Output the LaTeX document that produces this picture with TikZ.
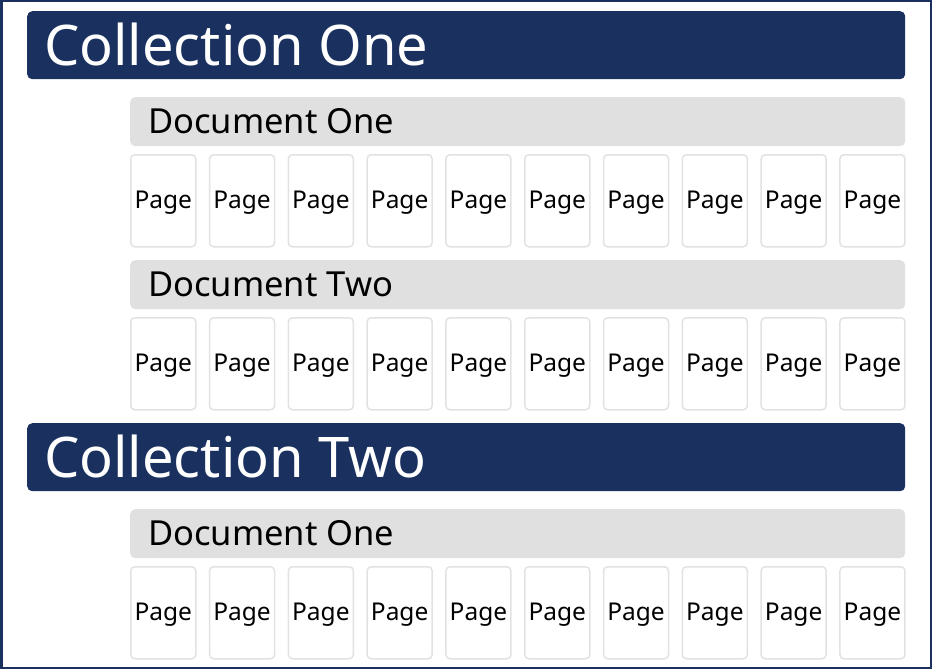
\documentclass[tikz,border=0pt]{standalone}
\usepackage{fontspec}
\setmainfont{Noto Sans}
\usetikzlibrary{calc}
\definecolor{navy}{RGB}{26,49,96}
\definecolor{docgrey}{RGB}{224,224,224}
\definecolor{pagegrey}{RGB}{226,226,226}
\tikzstyle{collbar}=[rectangle,rounded corners=5pt,fill=navy,minimum width=878pt,minimum height=68pt,anchor=north west,inner sep=0pt]
\tikzstyle{docbar}=[rectangle,rounded corners=5pt,fill=docgrey,minimum width=775pt,minimum height=49pt,anchor=north west,inner sep=0pt]
\tikzstyle{page}=[rectangle,rounded corners=4pt,draw=pagegrey,line width=1.5pt,fill=white,minimum width=65pt,minimum height=92pt,anchor=north west,inner sep=0pt]
\tikzstyle{colltext}=[anchor=base west,inner sep=0pt,text=white,font=\fontsize{56}{56}\selectfont]
\tikzstyle{doctext}=[anchor=base west,inner sep=0pt,text=black,font=\fontsize{34.5}{34.5}\selectfont]
\tikzstyle{pagetext}=[anchor=base,inner sep=0pt,text=black,font=\fontsize{24.5}{24.5}\selectfont]

\begin{document}
\begin{tikzpicture}[x=1pt,y=-1pt]
    % frame
    \useasboundingbox (0,0) rectangle (932,669);
    \draw[navy, line width=2.5pt] (1.25,1.25) rectangle (930.75,667.75);

    % collection bars
    \foreach \pos/\name in {{(27,11)/c1},{(27,423)/c2}}
        \node[collbar] (\name) at \pos {};
    \node[colltext] (c1t) at ($(c1.west)+(17,20.5)$) {Collection One};
    \node[colltext] (c2t) at ($(c2.west)+(17,20.5)$) {Collection Two};

    % document bars
    \foreach \pos/\name in {{(130,97)/d1},{(130,260)/d2},{(130,509)/d3}}
        \node[docbar] (\name) at \pos {};
    \node[doctext] (d1t) at ($(d1.west)+(18,11.5)$) {Document One};
    \node[doctext] (d2t) at ($(d2.west)+(18,11.5)$) {Document Two};
    \node[doctext] (d3t) at ($(d3.west)+(18,11.5)$) {Document One};

    % pages under each document
    \foreach \row/\y in {1/154,2/317,3/566}
        \foreach \i in {0,...,9}
        {
            \node[page] (p\row\i) at (130+\i*78.8,\y) {};
            \node[pagetext] (p\row\i t) at ($(p\row\i.center)+(0,7.5)$) {Page};
        }
\end{tikzpicture}
\end{document}
